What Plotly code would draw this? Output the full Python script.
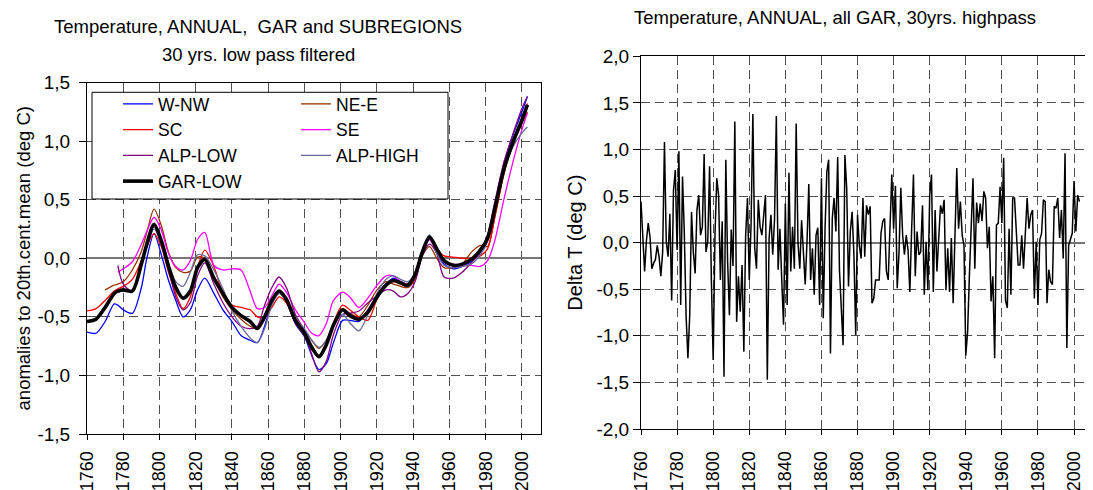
import plotly.graph_objects as go

# ---------------- data: left panel (30 yr low-pass, anomalies) ----------------
YEARS_LP = [1760, 1765, 1770, 1775, 1777, 1780, 1785, 1790, 1793, 1797,
            1801, 1805, 1809, 1813, 1817, 1821, 1825, 1830, 1835, 1840,
            1845, 1850, 1854, 1858, 1862, 1866, 1870, 1875, 1880, 1884,
            1888, 1892, 1896, 1901, 1905, 1910, 1915, 1920, 1925, 1929,
            1933, 1937, 1941, 1945, 1949, 1953, 1957, 1962, 1967, 1972,
            1977, 1981, 1985, 1990, 1995, 2000, 2003]

W_NW = [-0.63, -0.64, -0.54, -0.39, -0.40, -0.44, -0.47, -0.25, 0.00, 0.21,
        0.03, -0.19, -0.36, -0.50, -0.44, -0.27, -0.17, -0.30, -0.44, -0.54,
        -0.66, -0.70, -0.72, -0.58, -0.38, -0.29, -0.37, -0.56, -0.67, -0.83,
        -0.95, -0.90, -0.72, -0.53, -0.53, -0.54, -0.44, -0.32, -0.22, -0.17,
        -0.20, -0.22, -0.13, 0.05, 0.19, 0.04, -0.05, -0.09, -0.07, -0.03,
        0.05, 0.16, 0.45, 0.80, 1.05, 1.25, 1.38]

NE_E = [None, None, -0.27, -0.23, -0.22, -0.20, -0.10, 0.06, 0.22, 0.42,
        0.28, 0.05, -0.08, -0.12, -0.11, 0.01, 0.00, -0.18, -0.33, -0.44,
        -0.52, -0.58, -0.60, -0.52, -0.38, -0.30, -0.36, -0.52, -0.62, -0.70,
        -0.77, -0.70, -0.56, -0.43, -0.47, -0.50, -0.40, -0.27, -0.20, -0.22,
        -0.24, -0.25, -0.18, 0.02, 0.10, 0.00, -0.08, -0.08, -0.05, 0.05,
        0.11, 0.10, 0.35, 0.72, 0.97, 1.15, 1.25]

SC = [-0.45, -0.43, -0.36, -0.28, -0.26, -0.24, -0.18, -0.02, 0.10, 0.21,
      0.10, -0.12, -0.30, -0.43, -0.33, -0.08, 0.07, -0.07, -0.30, -0.40,
      -0.42, -0.44, -0.50, -0.50, -0.42, -0.33, -0.38, -0.55, -0.66, -0.78,
      -0.83, -0.75, -0.55, -0.40, -0.44, -0.50, -0.53, -0.35, -0.23, -0.20,
      -0.22, -0.24, -0.13, 0.06, 0.17, 0.08, 0.02, 0.01, 0.00, 0.00,
      0.02, 0.08, 0.35, 0.72, 1.00, 1.20, 1.32]

SE = [None, None, None, None, -0.12, -0.09, -0.03, 0.12, 0.23, 0.35,
      0.24, 0.04, -0.07, -0.10, -0.02, 0.16, 0.22, -0.06, -0.10, -0.09,
      -0.10, -0.28, -0.43, -0.42, -0.32, -0.22, -0.29, -0.44, -0.55, -0.64,
      -0.66, -0.56, -0.36, -0.29, -0.33, -0.42, -0.34, -0.23, -0.15, -0.15,
      -0.20, -0.22, -0.13, 0.05, 0.16, 0.05, -0.03, -0.05, -0.06, -0.06,
      -0.07, -0.02, 0.15, 0.50, 0.82, 1.10, 1.24]

ALP_LOW = [None, None, None, None, -0.06, -0.22, -0.28, -0.05, 0.10, 0.27,
           0.12, -0.10, -0.33, -0.44, -0.38, -0.15, -0.04, -0.22, -0.38, -0.50,
           -0.58, -0.60, -0.58, -0.40, -0.25, -0.16, -0.25, -0.48, -0.62, -0.82,
           -0.97, -0.88, -0.65, -0.48, -0.47, -0.45, -0.38, -0.32, -0.27, -0.28,
           -0.33, -0.30, -0.20, 0.02, 0.12, 0.04, -0.16, -0.17, -0.12, -0.04,
           0.05, 0.20, 0.48, 0.82, 1.06, 1.28, 1.38]

ALP_HIGH = [None, None, None, None, -0.29, -0.28, -0.28, -0.05, 0.10, 0.25,
            0.12, -0.05, -0.20, -0.24, -0.12, 0.03, 0.02, -0.10, -0.26, -0.45,
            -0.58, -0.68, -0.72, -0.60, -0.40, -0.30, -0.36, -0.52, -0.60, -0.70,
            -0.76, -0.70, -0.57, -0.48, -0.55, -0.62, -0.48, -0.30, -0.18, -0.15,
            -0.18, -0.20, -0.13, 0.08, 0.20, 0.04, -0.06, -0.08, -0.07, -0.05,
            0.03, 0.14, 0.42, 0.74, 0.95, 1.07, 1.12]

GAR_LOW = [-0.54, -0.52, -0.42, -0.30, -0.28, -0.27, -0.28, -0.05, 0.12, 0.29,
           0.15, -0.07, -0.25, -0.34, -0.28, -0.08, -0.01, -0.17, -0.30, -0.42,
           -0.49, -0.54, -0.60, -0.50, -0.36, -0.28, -0.35, -0.53, -0.64, -0.76,
           -0.84, -0.74, -0.57, -0.44, -0.49, -0.52, -0.46, -0.33, -0.23, -0.19,
           -0.21, -0.23, -0.14, 0.05, 0.18, 0.08, -0.02, -0.06, -0.05, -0.01,
           0.07, 0.17, 0.42, 0.76, 0.99, 1.18, 1.31]

# ---------------- data: right panel (30 yr high-pass, annual) ----------------
YEAR_HP_START = 1760
DELTA_T = [
    0.44, 0.05, -0.31, 0.02, 0.21, 0.06, -0.28, -0.22, -0.18, -0.03,   # 1760s
    -0.15, -0.36, -0.10, 1.08, 0.01, -0.15, 0.31, -0.62, 0.56, 0.78,   # 1770s
    -0.08, 0.98, -0.67, 0.71, 0.10, -0.79, -1.24, -0.78, 0.33, -0.10,  # 1780s
    -0.33, 0.35, 0.51, 0.08, 0.17, 0.95, -0.10, 0.01, 0.82, -0.40,     # 1790s
    -1.26, 0.08, 0.69, 0.51, -0.40, 0.23, -1.44, 0.89, -0.20, -0.78,   # 1800s
    0.14, -0.25, 1.30, -0.85, -0.36, -0.74, -0.24, -1.17, 0.08, 0.48,  # 1810s
    -0.40, 0.20, 1.38, -0.05, -0.28, 0.46, 0.17, 0.08, 0.30, 0.51,     # 1820s
    -1.47, 0.05, 0.30, -0.13, 0.25, 1.36, -0.29, 0.15, -0.40, -0.88,   # 1830s
    0.42, -0.67, 0.75, -0.31, 0.17, -0.28, 1.28, 0.00, -0.28, 0.24,    # 1840s
    -0.10, -0.45, 0.01, 0.63, -0.40, -0.06, -0.56, 0.08, 0.16, -0.67,  # 1850s
    0.69, -0.81, 0.15, 0.76, 0.89, -1.19, 0.26, 0.48, 0.12, 0.92,      # 1860s
    -0.30, -0.74, -1.10, 0.94, 0.58, -0.47, 0.12, 0.33, -0.13, -0.99,  # 1870s
    0.30, -0.03, -0.17, 0.48, -0.15, 0.40, 0.30, 0.39, -0.65, -0.60,   # 1880s
    -0.40, -0.40, -0.40, 0.10, 0.23, 0.26, -0.31, -0.40, 0.26, 0.73,   # 1890s
    0.15, 0.61, -0.49, -0.10, 0.59, 0.08, -0.13, 0.08, -0.08, -0.53,   # 1900s
    0.15, 0.73, -0.36, 0.12, -0.13, -0.10, 0.40, -0.56, 0.01, -0.51,   # 1910s
    0.51, 0.73, -0.53, 0.35, -0.31, 0.01, 0.40, 0.31, 0.46, -0.51,     # 1920s
    -0.06, -0.53, 0.05, -0.65, 0.05, 0.80, 0.15, 0.44, 0.08, -0.03,    # 1930s
    -1.21, -0.96, -0.35, 0.15, 0.69, -0.28, 0.43, 0.21, 0.42, 0.23,    # 1940s
    0.55, 0.48, -0.06, 0.17, -0.63, -0.36, -1.24, 0.19, 0.21, 0.60,    # 1950s
    0.21, 0.91, -0.62, -0.70, 0.15, -0.56, 0.48, 0.48, 0.08, -0.24,    # 1960s
    -0.24, 0.08, -0.28, 0.10, 0.48, 0.15, 0.30, 0.35, -0.60, 0.01,     # 1970s
    -0.67, 0.03, 0.10, 0.46, 0.44, -0.65, -0.29, -0.42, -0.45, 0.39,   # 1980s
    0.37, 0.48, 0.05, 0.35, -0.17, 0.96, -1.13, -0.03, 0.03, 0.10,     # 1990s
    0.66, 0.12, 0.51, 0.44,                                            # 2000s
]
YEARS_HP = list(range(YEAR_HP_START, YEAR_HP_START + len(DELTA_T)))

# ---------------- tick labels ----------------
X_TICKS = list(range(1760, 2001, 20))
X_TICKTEXT = [str(v) for v in X_TICKS]
Y1_TICKS = [-1.5, -1.0, -0.5, 0.0, 0.5, 1.0, 1.5]
Y1_TICKTEXT = ["-1,5", "-1,0", "-0,5", "0,0", "0,5", "1,0", "1,5"]
Y2_TICKS = [-2.0, -1.5, -1.0, -0.5, 0.0, 0.5, 1.0, 1.5, 2.0]
Y2_TICKTEXT = ["-2,0", "-1,5", "-1,0", "-0,5", "0,0", "0,5", "1,0", "1,5", "2,0"]

TITLE_LEFT_1 = "Temperature, ANNUAL,  GAR and SUBREGIONS"
TITLE_LEFT_2 = "30 yrs. low pass filtered"
TITLE_RIGHT = "Temperature, ANNUAL, all GAR, 30yrs. highpass"
YTITLE_LEFT = "anomalies to 20th.cent.mean (deg C)"
YTITLE_RIGHT = "Delta T (deg C)"

# ---------------- figure ----------------
PAGE_OFFSET = 8              # default page margin around the figure div
W, H = 1093 - PAGE_OFFSET, 490 - PAGE_OFFSET
FONT = "Liberation Sans, Arial, sans-serif"

def px_x(p):
    return (p - PAGE_OFFSET) / W

def px_y(p):
    return 1 - (p - PAGE_OFFSET) / H

series = [
    ("W-NW", W_NW, "#0000FF", 1.3, "legend"),
    ("NE-E", NE_E, "#993300", 1.3, "legend2"),
    ("SC", SC, "#FF0000", 1.3, "legend"),
    ("SE", SE, "#FF00FF", 1.3, "legend2"),
    ("ALP-LOW", ALP_LOW, "#800080", 1.3, "legend"),
    ("ALP-HIGH", ALP_HIGH, "#6B6B9E", 1.3, "legend2"),
    ("GAR-LOW", GAR_LOW, "#000000", 3.6, "legend"),
]

fig = go.Figure()
for name, vals, color, width, leg in series:
    fig.add_trace(go.Scatter(
        x=YEARS_LP, y=vals, name=name, mode="lines",
        line=dict(color=color, width=width, shape="spline", smoothing=0.8),
        connectgaps=False, legend=leg, xaxis="x", yaxis="y",
    ))

fig.add_trace(go.Scatter(
    x=YEARS_HP, y=DELTA_T, mode="lines", showlegend=False,
    line=dict(color="#000000", width=1.5), xaxis="x2", yaxis="y2",
))

grid = dict(showgrid=True, gridcolor="#505050", gridwidth=1, griddash="9px,5px")
axis_common = dict(showline=True, linecolor="#000000", linewidth=1, mirror=True,
                   automargin=False, **grid)
xtick_font = dict(family=FONT, size=18, color="#000000")
ytick_font = dict(family=FONT, size=19, color="#000000")

fig.update_layout(
    template="none",
    width=W, height=H,
    margin=dict(l=0, r=0, t=0, b=0, pad=0),
    paper_bgcolor="#FFFFFF", plot_bgcolor="#FFFFFF",
    font=dict(family=FONT, size=19, color="#000000"),
    xaxis=dict(domain=[px_x(87), px_x(541)], range=[1760, 2010.5], anchor="y",
               tickvals=X_TICKS, ticktext=X_TICKTEXT, tickangle=-90,
               ticks="outside", ticklen=5, tickcolor="#000000",
               ticklabelstandoff=4, zeroline=False, tickfont=xtick_font,
               **axis_common),
    yaxis=dict(domain=[px_y(434), px_y(82.5)], range=[-1.5, 1.5], anchor="x",
               tickvals=Y1_TICKS, ticktext=Y1_TICKTEXT,
               ticks="outside", ticklen=7, tickcolor="#000000",
               ticklabelstandoff=5, tickfont=ytick_font,
               zeroline=True, zerolinecolor="#777777", zerolinewidth=2,
               title=dict(text=YTITLE_LEFT, standoff=1,
                          font=dict(family=FONT, size=18.5)),
               **axis_common),
    xaxis2=dict(domain=[px_x(641), 1.0], range=[1760, 2010.5], anchor="y2",
                tickvals=X_TICKS, ticktext=X_TICKTEXT, tickangle=-90,
                ticks="outside", ticklen=5, tickcolor="#000000",
                ticklabelstandoff=9, zeroline=False, tickfont=xtick_font,
                **axis_common),
    yaxis2=dict(domain=[px_y(429), px_y(56.3)], range=[-2.0, 2.0], anchor="x2",
                tickvals=Y2_TICKS, ticktext=Y2_TICKTEXT,
                ticks="outside", ticklen=7, tickcolor="#000000",
                ticklabelstandoff=0, tickfont=ytick_font,
                zeroline=True, zerolinecolor="#777777", zerolinewidth=2,
                title=dict(text=YTITLE_RIGHT, standoff=8,
                           font=dict(family=FONT, size=20)),
                **axis_common),
    legend=dict(x=px_x(118), y=px_y(86), xanchor="left", yanchor="top",
                bgcolor="rgba(0,0,0,0)", borderwidth=0, tracegroupgap=0,
                font=dict(family=FONT, size=17.5, color="#000000")),
    legend2=dict(x=px_x(296), y=px_y(86), xanchor="left", yanchor="top",
                 bgcolor="rgba(0,0,0,0)", borderwidth=0, tracegroupgap=0,
                 font=dict(family=FONT, size=17.5, color="#000000")),
    shapes=[dict(type="rect", xref="paper", yref="paper",
                 x0=px_x(92), x1=px_x(448), y0=px_y(199), y1=px_y(92.3),
                 fillcolor="#FFFFFF", line=dict(color="#000000", width=1),
                 layer="above")],
    annotations=[
        dict(text=TITLE_LEFT_1, xref="paper", yref="paper", x=px_x(258), y=px_y(27),
             xanchor="center", yanchor="middle", showarrow=False,
             font=dict(family=FONT, size=18.5, color="#000000")),
        dict(text=TITLE_LEFT_2, xref="paper", yref="paper", x=px_x(258), y=px_y(55),
             xanchor="center", yanchor="middle", showarrow=False,
             font=dict(family=FONT, size=18.5, color="#000000")),
        dict(text=TITLE_RIGHT, xref="paper", yref="paper", x=px_x(835), y=px_y(17),
             xanchor="center", yanchor="middle", showarrow=False,
             font=dict(family=FONT, size=18.5, color="#000000")),
    ],
)

fig.write_html("out.html")
